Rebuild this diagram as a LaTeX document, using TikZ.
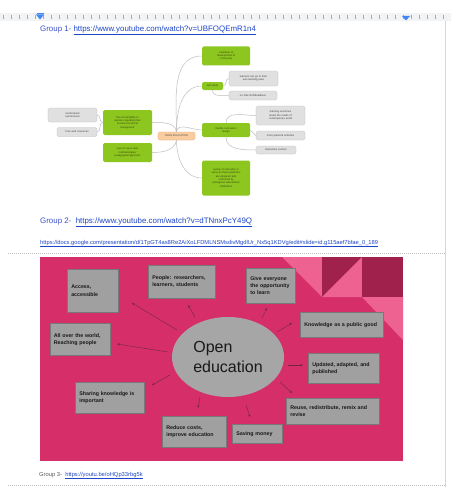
\documentclass[tikz,border=0pt]{standalone}
\usepackage{fontspec}
\setmainfont{Liberation Sans}
\usetikzlibrary{arrows.meta,shapes.geometric}
\definecolor{rulerbg}{RGB}{241,243,244}
\definecolor{tickc}{RGB}{170,170,170}
\definecolor{markblue}{RGB}{66,133,244}
\definecolor{pageline}{RGB}{215,215,215}
\definecolor{grpblue}{RGB}{60,80,200}
\definecolor{linkblue}{RGB}{30,70,200}
\definecolor{mmgreen}{RGB}{140,198,30}
\definecolor{mmtext}{RGB}{60,70,20}
\definecolor{mmgray}{RGB}{224,224,224}
\definecolor{mmgrayline}{RGB}{190,190,190}
\definecolor{mmline}{RGB}{190,190,190}
\definecolor{peach}{RGB}{250,205,160}
\definecolor{peachline}{RGB}{235,160,100}
\definecolor{slidepink}{RGB}{214,46,104}
\definecolor{lightpink}{RGB}{238,98,146}
\definecolor{maroon}{RGB}{160,34,76}
\definecolor{boxgray}{RGB}{160,160,160}
\definecolor{boxline}{RGB}{120,120,120}
\definecolor{ellgray}{RGB}{166,166,166}
\definecolor{arrowc}{RGB}{110,40,70}
\definecolor{g3gray}{RGB}{90,90,90}
\tikzset{
  mmgreennode/.style={fill=mmgreen, rounded corners=1.5pt, text=mmtext,
    font=\fontsize{2.6}{3.3}\selectfont, align=center, inner sep=0.5pt},
  mmgraynode/.style={fill=mmgray, draw=mmgrayline, line width=0.3pt, rounded corners=1.5pt,
    text=black!75, font=\fontsize{2.6}{3.3}\selectfont, align=center, inner sep=0.5pt},
  mmconn/.style={draw=mmline, line width=0.5pt},
  sbox/.style={fill=boxgray, draw=boxline, line width=0.6pt, text=black!90,
    font=\bfseries\fontsize{5.3}{7.3}\selectfont, align=left, inner xsep=4pt,
    inner ysep=1pt, anchor=north west},
  sarrow/.style={-{Stealth[length=2.6pt,width=2.2pt]}, draw=arrowc, line width=0.4pt},
  sep/.style={draw=black!25, line width=0.5pt, dash pattern=on 1pt off 1pt}
}
\begin{document}
\begin{tikzpicture}[x=1pt,y=-1pt]
\useasboundingbox[fill=white] (0,0) rectangle (451,495);

% ruler
\fill[rulerbg] (0,13) rectangle (451,21);
\foreach \x in {3,11,...,448} \draw[tickc, line width=0.4pt] (\x,15) -- (\x,19);
\fill[markblue] (36,14.5) -- (44,14.5) -- (40,19.5) -- cycle;
\fill[markblue] (36.5,12.8) rectangle (43.5,14);
\fill[markblue] (402,16) -- (410,16) -- (406,20.5) -- cycle;
% page edge
\draw[pageline, line width=0.8pt] (445.5,21) -- (445.5,487);

% Group 1
\node[anchor=base west, inner sep=0, text=grpblue, font=\fontsize{7.9}{9.6}\selectfont] (g1) at (40,31.5)
  {Group 1- \textcolor{linkblue}{\underline{https://www.youtube.com/watch?v=UBFOQEmR1n4}}};

% mind map
\node[fill=peach, draw=peachline, line width=0.3pt, rounded corners=1.5pt, text=black!70,
  font=\fontsize{2.6}{3.3}\selectfont, minimum width=37pt, minimum height=8pt, inner sep=0.5pt]
  (oe1) at (176.5,136) {OPEN EDUCATION};

\node[mmgreennode, text width=44pt, minimum width=48pt, minimum height=19pt] (contrib) at (226,56)
  {contribute to\\development of\\community};
\node[mmgreennode, text width=19pt, minimum width=21pt, minimum height=8pt] (self) at (212.5,86) {self study};
\node[mmgreennode, text width=44pt, minimum width=48pt, minimum height=14pt] (flex) at (226,130)
  {flexible curriculum\\design};
\node[mmgreennode, text width=44pt, minimum width=48pt, minimum height=35pt] (quality) at (226,178)
  {quality of education is\\same as these platforms\\are designed and\\confirmed by\\prestigious educational\\institutions};
\node[mmgreennode, text width=45pt, minimum width=49pt, minimum height=25pt] (free) at (127.5,122.5)
  {free accessibility to\\anyone regarding their\\social-economical\\background};
\node[mmgreennode, text width=45pt, minimum width=49pt, minimum height=19pt] (open) at (127.5,152.5)
  {open to up-to-date\\methodologies/\\pedagogical approach};

\node[mmgraynode, text width=45pt, minimum width=49pt, minimum height=15pt] (learners) at (253.5,78.5)
  {learners can go to their\\own learning pace};
\node[mmgraynode, text width=44pt, minimum width=48pt, minimum height=9pt] (notime) at (253,95.5)
  {no time limit/deadlines};
\node[mmgraynode, text width=45pt, minimum width=49pt, minimum height=19pt] (outcomes) at (280.5,115.5)
  {learning outcomes\\meets the needs of\\contemporary world};
\node[mmgraynode, text width=45pt, minimum width=49pt, minimum height=9pt] (practical) at (280.5,135.5)
  {more practical activities};
\node[mmgraynode, text width=36pt, minimum width=40pt, minimum height=8pt] (interactive) at (276,150)
  {interactive content};
\node[mmgraynode, text width=45pt, minimum width=49pt, minimum height=14pt] (multi) at (72.5,115)
  {multicultural\\environment};
\node[mmgraynode, text width=36pt, minimum width=40pt, minimum height=9pt] (freeweb) at (77,132)
  {Free web resources};

\draw[mmconn] (oe1.north) to[out=90,in=180] (contrib.west);
\draw[mmconn] (oe1.north) to[out=90,in=180] (self.west);
\draw[mmconn] (oe1.north) to[out=85,in=180] (flex.west);
\draw[mmconn] (oe1.south) to[out=-90,in=180] (quality.west);
\draw[mmconn] (oe1.north) to[out=100,in=0] (free.east);
\draw[mmconn] (oe1.south) to[out=-100,in=0] (open.east);
\draw[mmconn] (self.east) to[out=0,in=180] (learners.west);
\draw[mmconn] (self.south) to[out=-90,in=180] (notime.west);
\draw[mmconn] (flex.north) to[out=90,in=180] (outcomes.west);
\draw[mmconn] (flex.east) -- (practical.west);
\draw[mmconn] (flex.south) to[out=-90,in=180] (interactive.west);
\draw[mmconn] (free.west) to[out=180,in=0] (multi.east);
\draw[mmconn] (free.west) to[out=180,in=0] (freeweb.east);

% Group 2
\node[anchor=base west, inner sep=0, text=grpblue, font=\fontsize{7.9}{10}\selectfont] (g2) at (40,223)
  {Group 2-\ \ \textcolor{linkblue}{\underline{https://www.youtube.com/watch?v=dTNnxPcY49Q}}};
\node[anchor=base west, inner sep=0, text=linkblue, font=\fontsize{5.75}{7}\selectfont] (docs) at (40,244)
  {\underline{https://docs.google.com/presentation/d/1TpGT4as8Re2AiXoLFDMLNSMsdivMgdlUr\_Nx5q1KDVg/edit\#slide=id.g115aef7bfae\_0\_189}};

\draw[sep] (8,253) -- (446,253);

% slide
\fill[slidepink] (40,257) rectangle (403,461);
\fill[lightpink] (282,257) -- (322,257) -- (322,297) -- cycle;
\fill[maroon] (322,257) -- (362,257) -- (322,297) -- cycle;
\fill[lightpink] (362,257) -- (362,297) -- (322,297) -- cycle;
\fill[maroon] (362,257) rectangle (403,297);
\fill[lightpink] (362,297) -- (403,297) -- (403,340) -- cycle;

\node[ellipse, fill=ellgray, minimum width=112pt, minimum height=80pt, inner sep=0,
  align=left, text=black!90, font=\fontsize{16}{19.5}\selectfont] (oe) at (228,357) {Open\\education};

\node[sbox, text width=43pt, minimum width=51pt, minimum height=43pt] (access) at (67,269) {Access,\\accessible};
\node[sbox, text width=59pt, minimum width=67pt, minimum height=33pt] (people) at (148,265) {People: researchers,\\learners, students};
\node[sbox, text width=41pt, minimum width=49pt, minimum height=35pt] (give) at (246,268) {Give everyone\\the opportunity\\to learn};
\node[sbox, text width=75pt, minimum width=83pt, minimum height=25pt] (know) at (300,312) {Knowledge as a public good};
\node[sbox, text width=63pt, minimum width=71pt, minimum height=30pt] (updated) at (308,353) {Updated, adapted, and\\published};
\node[sbox, text width=85pt, minimum width=93pt, minimum height=26pt] (reuse) at (286,398) {Reuse, redistribute, remix and\\revise};
\node[sbox, text width=42pt, minimum width=50pt, minimum height=19pt] (saving) at (232,424) {Saving money};
\node[sbox, text width=56pt, minimum width=64pt, minimum height=31pt] (reduce) at (162,416) {Reduce costs,\\improve education};
\node[sbox, text width=61pt, minimum width=69pt, minimum height=31pt] (sharing) at (75,382) {Sharing knowledge is\\important};
\node[sbox, text width=53pt, minimum width=60pt, minimum height=32pt, inner xsep=3pt] (allover) at (50,323) {All over the world,\\Reaching people};

% arrows
\coordinate (a1s) at (177,330); \coordinate (a1e) at (132,303);
\coordinate (a2s) at (195,317); \coordinate (a2e) at (188,305);
\coordinate (a3s) at (262,318); \coordinate (a3e) at (267,308);
\coordinate (a4s) at (277,332); \coordinate (a4e) at (292,323);
\coordinate (a5s) at (288,365); \coordinate (a5e) at (303,365);
\coordinate (a6s) at (280,382); \coordinate (a6e) at (292,393);
\coordinate (a7s) at (246,405); \coordinate (a7e) at (250,417);
\coordinate (a8s) at (200,397); \coordinate (a8e) at (198,408);
\coordinate (a9s) at (170,375); \coordinate (a9e) at (152,385);
\coordinate (a10s) at (168,352); \coordinate (a10e) at (117,344);
\foreach \i in {1,...,10} \draw[sarrow] (a\i s) -- (a\i e);

% Group 3
\node[anchor=base west, inner sep=0, text=g3gray, font=\fontsize{5.8}{7}\selectfont] (g3) at (39,476)
  {Group 3-\ \ \textcolor{linkblue}{\underline{https://youtu.be/oHQp33rbg5k}}};
\draw[sep] (8,485) -- (446,485);
\end{tikzpicture}
\end{document}
